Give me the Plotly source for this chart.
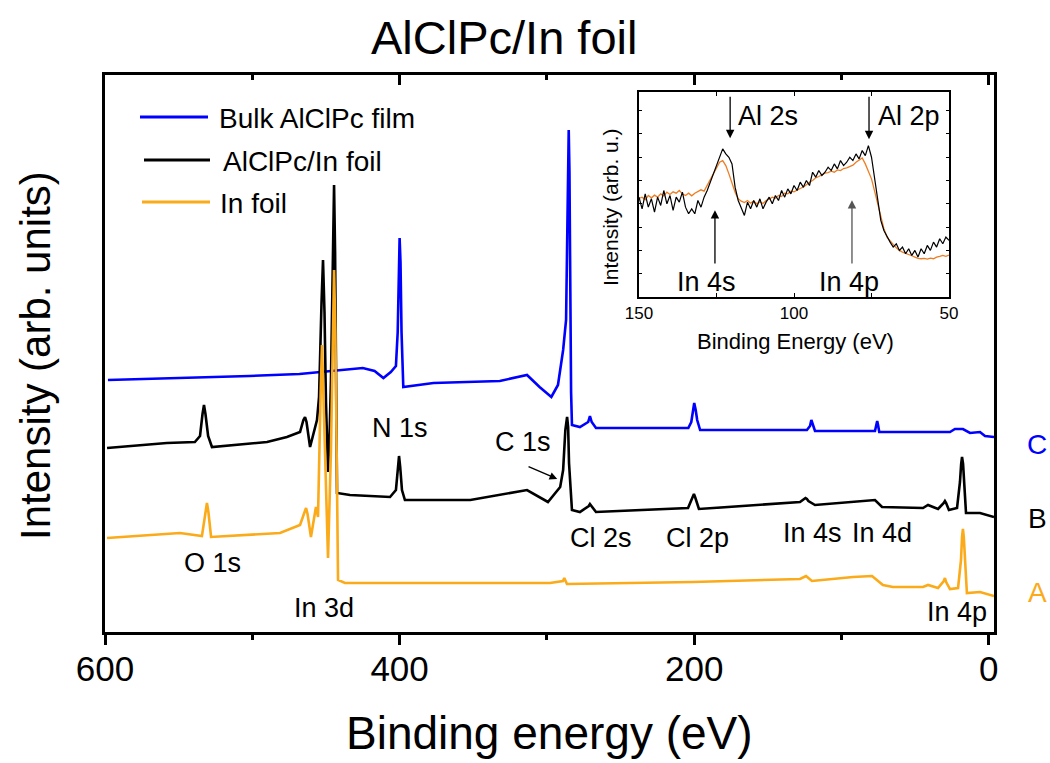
import plotly.graph_objects as go

# ---------------- data ----------------
# Main survey spectra: binding energy (eV) and intensity (arb. units)
bulk_ev = [598, 570, 535, 502, 468, 454, 425, 417, 411, 406, 402.5, 401.3, 400.6, 400, 399.4,
           398.7, 397.5, 377, 332, 313.5, 305, 297, 292.5, 289, 287, 286.2, 285.7, 285.2, 284.7,
           284.2, 283.6, 283, 277.6, 272, 270.8, 269.6, 266.7, 218.5, 204, 202, 201, 200, 199,
           198, 196, 123.5, 121.4, 120.5, 119.6, 118, 77.3, 76.4, 75.8, 75.2, 74.4, 26.4, 23, 17.6,
           12.8, 6, 2.6, -3.5]
bulk_int = [252, 253, 255, 256, 258, 260, 264, 261, 254, 260, 266, 300, 370, 394, 370,
            300, 245, 249, 251, 257, 245, 235, 247, 282, 312, 380, 440, 502, 460,
            330, 240, 207, 205, 210, 216, 210, 204, 204, 204, 210, 222, 229, 222,
            212, 202, 202, 206, 212, 208, 201, 201, 208, 211, 207, 200, 200, 203, 203,
            199, 200, 196, 195]

film_ev = [598.6, 558, 539, 535.5, 533.8, 532.8, 531.8, 530, 527.4, 490, 476.5, 467.6, 465.3,
           464.2, 463.2, 460.8, 456.1, 454.7, 453, 452, 451, 450, 448.6, 447.5, 446.6, 445.3,
           444.5, 443.8, 443.2, 442.5, 433.7, 406.5, 402.5, 401.2, 400.4, 399.6, 398.4, 396.4,
           352, 313.5, 299.3, 291, 289, 287.5, 286.8, 286.3, 285.6, 285, 283, 277.6, 271.6,
           270.8, 269.8, 266.7, 204.2, 201.2, 200.2, 199.2, 196.8, 128.2, 124.5, 123.5, 122.5,
           118, 80.7, 77.3, 72.5, 44.7, 41.3, 34.5, 30.6, 29.8, 29, 27.1, 21.6, 19.6, 18.8, 18.2,
           17.5, 16.9, 15.5, 6, -3.5]
film_int = [184, 189, 190, 196, 218, 227, 218, 196, 185, 190, 195, 200, 212,
            215, 210, 185, 212, 235, 330, 372, 320, 230, 160, 200, 252, 380,
            447, 380, 212, 139, 137, 135, 142, 165, 176, 165, 142, 132,
            132, 142, 130, 145, 162, 202, 212, 215, 205, 169, 122, 120, 126,
            128, 126, 120, 124, 135, 138, 134, 123, 130, 134, 133, 131,
            127, 132, 132, 125, 124, 127, 123, 129, 131, 129, 122, 124, 150, 168, 175,
            168, 150, 119, 119, 115]

foil_ev = [598.6, 549.1, 534.2, 531.8, 530.8, 529.8, 528.0, 481.2, 476.5, 467.6, 464.5, 463.5,
           462.5, 460.2, 456.8, 455.4, 453.6, 452.7, 451.8, 450.7, 448.6, 446.6, 445.4, 444.5,
           443.6, 442.5, 441.8, 437.1, 297.9, 289.1, 288.2, 286.4, 200.8, 128.2, 124.1, 120.1,
           92.2, 79.3, 71.9, 65.1, 44.7, 41.3, 34.5, 30.6, 29.8, 29, 26.4, 20.9, 18.9, 18.2, 17.6,
           17, 16.2, 14.9, 6.0, -3.5]
foil_int = [94, 99, 96, 120, 129, 120, 95, 99, 102, 107, 120, 124,
            118, 95, 125, 115, 240, 287, 240, 182, 74, 182, 310, 362,
            300, 132, 52, 49, 49, 51, 54, 48, 50, 53, 56, 51,
            55, 56, 47, 45, 45, 47, 44, 51, 54, 50, 43, 44, 72, 95, 103,
            95, 72, 39, 40, 36]

# Inset (Al 2s / Al 2p region), 1 eV steps from 150 to 50 eV
inset_ev = list(range(150, 49, -1))
inset_film = [300, 265, 310, 270, 295, 255, 300, 275, 320, 280, 305, 260, 300, 285, 315, 270,
              250, 265, 250, 290, 270, 300,
              320, 345, 370, 400, 420, 445, 430, 420, 400, 330, 290, 270, 245, 285, 265, 290,
              270, 295, 265, 285, 300, 280, 305, 290, 320, 300, 325, 310, 335, 320, 345, 330,
              350, 335, 375, 360, 380, 365, 375, 390, 380, 400, 385, 410, 395, 405, 420, 410,
              430, 415, 440, 425, 455, 420, 360, 290, 230, 200, 180, 165, 150, 160, 140, 150,
              130, 145, 125, 140, 120, 145, 130, 155, 140, 165, 150, 175, 160, 180, 170]
inset_foil = [296, 300, 292, 305, 298, 306, 300, 310, 304, 315, 308, 316, 312, 320, 310, 305,
              312, 304, 312, 316, 322, 318,
              335, 355, 372, 390, 405, 410, 395, 370, 340, 315, 295, 288, 284, 290, 282, 288,
              280, 286, 281, 290, 294, 300, 297, 305, 302, 312, 310, 318, 316, 322, 326, 330,
              338, 345, 350, 358, 362, 368, 372, 374, 378, 375, 382, 380, 386, 388, 392, 396,
              405, 412, 418, 400, 380, 355, 318, 280, 235, 205, 180, 168, 158, 148, 140, 135,
              132, 129, 124, 120, 116, 115, 116, 114, 117, 115, 120, 122, 125, 122, 126]

series_names = ["Bulk AlClPc film", "AlClPc/In foil", "In foil"]
series_tags = ["C", "B", "A"]
main_ticks = [600, 400, 200, 0]
main_minor = [500, 300, 100]
inset_ticks = [150, 125, 100, 75, 50]
inset_ticktext = ["150", "", "100", "", "50"]

# ---------------- styling ----------------
BLUE = "#0000FF"
BLACK = "#000000"
ORANGE = "#FBAA19"
INSET_ORANGE = "#EE7D22"
FONT = "Liberation Sans, Arial, sans-serif"

W, H = 1050, 763
L, R, T, B = 105, 994, 75, 632
PW, PH = R - L, B - T


def px(x):
    return (x - L) / PW


def py(y):
    return (B - y) / PH


def label(text, x, y, xref, yref, size, color="black", xanchor="center", angle=0):
    return dict(text=text, x=x, y=y, xref=xref, yref=yref, xanchor=xanchor, yanchor="middle",
                showarrow=False, textangle=angle, font=dict(size=size, color=color, family=FONT))


fig = go.Figure()
for xs, ys, col in [(bulk_ev, bulk_int, BLUE), (film_ev, film_int, BLACK), (foil_ev, foil_int, ORANGE)]:
    fig.add_trace(go.Scatter(x=xs, y=ys, mode="lines", line=dict(color=col, width=2.6),
                             xaxis="x", yaxis="y", showlegend=False, hoverinfo="skip"))

fig.add_trace(go.Scatter(x=inset_ev, y=inset_foil, mode="lines",
                         line=dict(color=INSET_ORANGE, width=1.3), xaxis="x2", yaxis="y2",
                         showlegend=False, hoverinfo="skip"))
fig.add_trace(go.Scatter(x=inset_ev, y=inset_film, mode="lines",
                         line=dict(color=BLACK, width=1.2), xaxis="x2", yaxis="y2",
                         showlegend=False, hoverinfo="skip"))
# dummy trace to draw the top (inward) tick axis
fig.add_trace(go.Scatter(x=[None], y=[None], xaxis="x3", yaxis="y", showlegend=False,
                         hoverinfo="skip"))

ann = []
# peak labels (data coordinates)
for txt, x, y in [("N 1s", 400, 204), ("C 1s", 316, 190), ("O 1s", 527, 69),
                  ("In 3d", 451, 24), ("Cl 2s", 263, 94), ("Cl 2p", 197.5, 94),
                  ("In 4s", 120, 99), ("In 4d", 72.5, 99), ("In 4p", 21.6, 20)]:
    ann.append(label(txt, x, y, "x", "y", 27))
# C 1s arrow
ann.append(dict(text="", x=293, y=153, ax=313.5, ay=166, xref="x", yref="y",
                axref="x", ayref="y", showarrow=True, arrowhead=2, arrowsize=1.1,
                arrowwidth=1.4, arrowcolor="black"))
# trace tags on the right
for tag, y, col in [(series_tags[0], 188, BLUE), (series_tags[1], 114, BLACK), (series_tags[2], 40, ORANGE)]:
    ann.append(label(tag, px(1037), y, "paper", "y", 28, color=col))

# legend (drawn manually)
shapes = []
for name, col, ly, x0, x1, tx in [(series_names[0], BLUE, 117, 140, 208, 217),
                                  (series_names[1], BLACK, 160, 144, 210, 221),
                                  (series_names[2], ORANGE, 202, 142, 210, 218)]:
    shapes.append(dict(type="line", xref="paper", yref="paper", x0=px(x0), x1=px(x1),
                       y0=py(ly), y1=py(ly), line=dict(color=col, width=3)))
    ann.append(label(name, px(tx), py(ly + 1), "paper", "paper", 28, xanchor="left"))

# axis titles and title
ann.append(label("Binding energy (eV)", px(549), py(733), "paper", "paper", 46))
ann.append(label("Intensity (arb. units)", px(35), py(356), "paper", "paper", 42, angle=-90))
ann.append(label("AlClPc/In foil", px(504), py(38), "paper", "paper", 47))

# inset annotations
for txt, x, y in [("Al 2s", 108.4, 543), ("Al 2p", 62.9, 543), ("In 4s", 128.1, 45), ("In 4p", 82.3, 45)]:
    ann.append(label(txt, x, y, "x2", "y2", 27))
for x, tip, tail, col in [(120.6, 477, 606, "black"), (75.8, 474, 606, "black"),
                          (125.5, 261, 96, "black"), (81.3, 291, 96, "#555555")]:
    ann.append(dict(text="", x=x, y=tip, ax=x, ay=tail, xref="x2", yref="y2", axref="x2",
                    ayref="y2", showarrow=True, arrowhead=2, arrowsize=1.3, arrowwidth=1.3,
                    arrowcolor=col))
ann.append(label("Binding Energy (eV)", px(795), py(341), "paper", "paper", 22))
ann.append(label("Intensity (arb. u.)", px(611), py(207), "paper", "paper", 21, angle=-90))

fig.update_layout(
    width=W, height=H,
    margin=dict(l=L, r=W - R, t=T, b=H - B, pad=0),
    paper_bgcolor="white", plot_bgcolor="white",
    font=dict(family=FONT, color="black"),
    xaxis=dict(range=[600, -3.5], showline=True, linecolor="black", linewidth=2.5,
               mirror=True, ticks="outside", ticklen=10, tickwidth=2.5, tickcolor="black",
               tickvals=main_ticks, ticktext=[str(v) for v in main_ticks],
               minor=dict(tickvals=main_minor, ticks="outside", ticklen=5, tickwidth=2.5,
                          tickcolor="black"),
               ticklabelstandoff=-6,
               tickfont=dict(size=35, family=FONT), showgrid=False, zeroline=False),
    xaxis3=dict(range=[600, -3.5], overlaying="x", side="top", anchor="y", showline=False,
                ticks="inside", ticklen=10, tickwidth=2.5, tickcolor="black",
                tickvals=main_ticks, showticklabels=False,
                minor=dict(tickvals=main_minor, ticks="inside", ticklen=5, tickwidth=2.5,
                           tickcolor="black"),
                showgrid=False, zeroline=False),
    yaxis=dict(range=[0, 557], showline=True, linecolor="black", linewidth=2.5, mirror=True,
               ticks="", showticklabels=False, showgrid=False, zeroline=False),
    xaxis2=dict(domain=[px(639), px(949)], anchor="y2", range=[150, 50], showline=True,
                linecolor="black", linewidth=1.5, mirror="ticks", ticks="inside", ticklen=4,
                tickwidth=1.2, tickcolor="black", tickvals=inset_ticks, ticktext=inset_ticktext,
                tickfont=dict(size=17, family=FONT), showgrid=False, zeroline=False),
    yaxis2=dict(domain=[py(297), py(92)], anchor="x2", range=[0, 616], showline=True,
                linecolor="black", linewidth=1.5, mirror="ticks", ticks="inside", ticklen=3,
                tickwidth=1, tickcolor="black", dtick=70, showticklabels=False,
                showgrid=False, zeroline=False),
    annotations=ann,
    shapes=shapes,
)

fig.write_html("out.html")
